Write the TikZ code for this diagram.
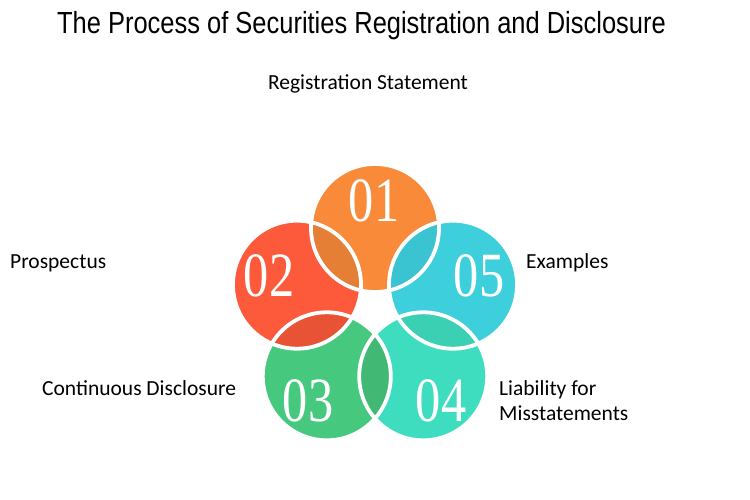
\documentclass[tikz,border=0pt]{standalone}
\usepackage{fontspec}
\setmainfont{Carlito}
\newfontfamily\titlefont{Liberation Sans}
\newfontfamily\numfont{Liberation Serif}

\definecolor{orangeA}{HTML}{F98A3A}
\definecolor{redA}{HTML}{FC5A3B}
\definecolor{greenA}{HTML}{46C97F}
\definecolor{tealA}{HTML}{3FDDBF}
\definecolor{cyanA}{HTML}{3ECFDD}

\begin{document}
\begin{tikzpicture}[x=1pt, y=-1pt,
    petal/.style ={white, line width=3.8pt},
    digit/.style ={text=white, font=\numfont\fontsize{63}{63}\selectfont, xscale=0.8},
    itemtext/.style ={font=\fontsize{21.5}{25}\selectfont, inner sep=0pt, align=left}]
   \useasboundingbox[fill=white] (0,0) rectangle (750,500);

   \coordinate (c1) at (375,228);
   \coordinate (c2) at (297,284.7);
   \coordinate (c3) at (326.8,376.3);
   \coordinate (c4) at (423.2,376.3);
   \coordinate (c5) at (453,284.7);

   \fill[orangeA] (c1) circle (64);
   \fill[redA] (c2) circle (64);
   \fill[greenA] (c3) circle (64);
   \fill[tealA] (c4) circle (64);
   \fill[cyanA] (c5) circle (64);

   % overlaps
   \begin{scope}
      \clip (c2) circle (64);
      \fill[orangeA!92!black] (c1) circle (64);
   \end{scope}
   \begin{scope}
      \clip (c3) circle (64);
      \fill[redA!92!black] (c2) circle (64);
   \end{scope}
   \begin{scope}
      \clip (c4) circle (64);
      \fill[greenA!92!black] (c3) circle (64);
   \end{scope}
   \begin{scope}
      \clip (c5) circle (64);
      \fill[tealA!94!black] (c4) circle (64);
   \end{scope}
   \begin{scope}
      \clip (c1) circle (64);
      \fill[cyanA!94!black] (c5) circle (64);
   \end{scope}

   \draw[petal] (c1) circle (64);
   \draw[petal] (c2) circle (64);
   \draw[petal] (c3) circle (64);
   \draw[petal] (c4) circle (64);
   \draw[petal] (c5) circle (64);

   \node[digit] (n1) at (374,201) {01};
   \node[digit] (n2) at (269,276) {02};
   \node[digit] (n3) at (308,401) {03};
   \node[digit] (n4) at (441,401) {04};
   \node[digit] (n5) at (479,276) {05};

   \node[anchor=base west, inner sep=0pt, font=\titlefont\fontsize{30.5}{30.5}\selectfont, xscale=0.835] (title) at (57,34)
      {The Process of Securities Registration and Disclosure};

   \node[itemtext, anchor=base] (t1) at (368,90) {Registration Statement};
   \node[itemtext, anchor=base west] (t2) at (10,268) {Prospectus};
   \node[itemtext, anchor=base west] (t3) at (42,395) {Continuous Disclosure};
   \node[itemtext, anchor=base west] (t4) at (499,420) {Liability for\\Misstatements};
   \node[itemtext, anchor=base west] (t5) at (526,268) {Examples};

 \end{tikzpicture}
\end{document}
